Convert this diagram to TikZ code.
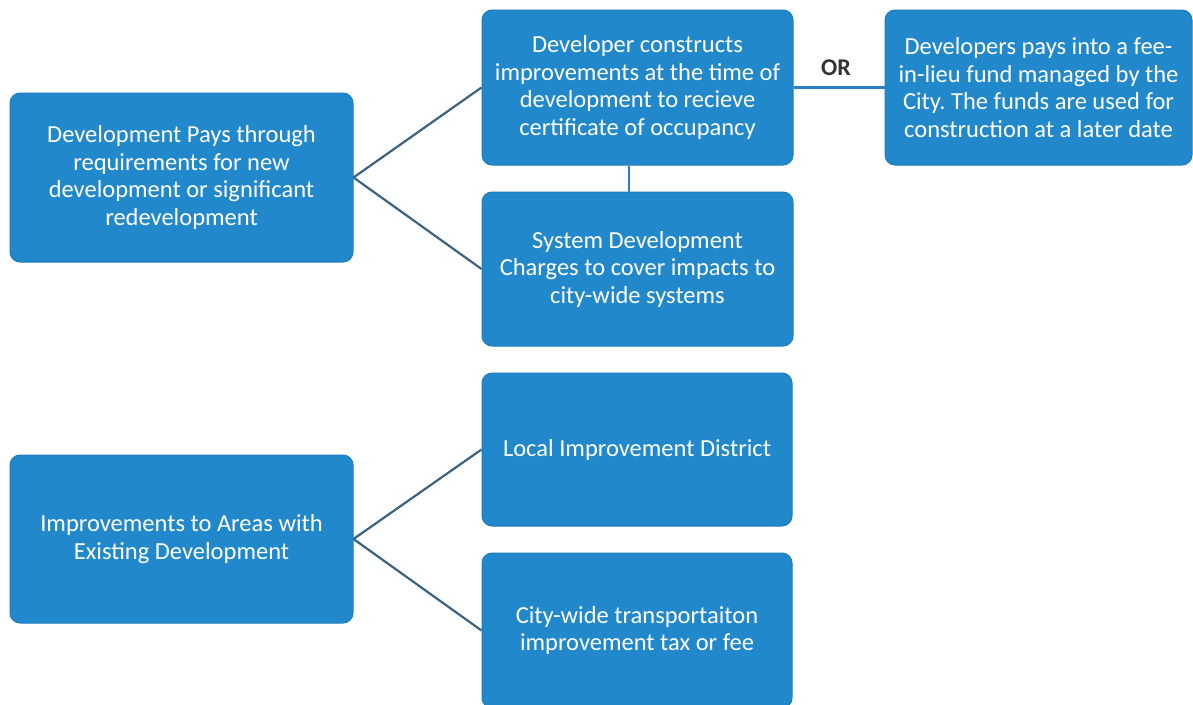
\documentclass[tikz,border=0pt]{standalone}
\usepackage{fontspec}
\setmainfont{Carlito}
\definecolor{boxblue}{HTML}{2288CC}
\definecolor{boxedge}{HTML}{1E7DBD}
\definecolor{linkslate}{HTML}{3A6282}
\definecolor{linkblue}{HTML}{2A80C2}
\definecolor{ortext}{HTML}{333333}
\begin{document}
\frenchspacing
\begin{tikzpicture}[x=1pt,y=-1pt,
  box/.style={draw=boxedge, line width=1pt, fill=boxblue, rounded corners=10pt, text=white,
    align=center, inner sep=0pt, font=\fontsize{24.5}{27.5}\selectfont},
  link/.style={draw=linkslate, line width=2.2pt},
  blink/.style={draw=linkblue, line width=2.2pt}]
\useasboundingbox (0,0) rectangle (1193,704);
\clip (0,0) rectangle (1193,704);
\fill[white] (0,0) rectangle (1193,704);

\node[box, minimum width=343pt, minimum height=169pt] (A) at (181.5,177.5)
  {Development Pays through\\requirements for new\\development or significant\\redevelopment};
\node[box, minimum width=311pt, minimum height=155pt] (B) at (637.5,87.5)
  {Developer constructs\\improvements at the time of\\development to recieve\\certificate of occupancy};
\node[box, minimum width=307pt, minimum height=155pt] (C) at (1038.5,87.5)
  {Developers pays into a fee-\\in-lieu fund managed by the\\City. The funds are used for\\construction at a later date};
\node[box, minimum width=311pt, minimum height=154pt] (D) at (637.5,269)
  {System Development\\Charges to cover impacts to\\city-wide systems};
\node[box, minimum width=343pt, minimum height=168pt] (E) at (181.5,539)
  {Improvements to Areas with\\Existing Development};
\node[box, minimum width=310pt, minimum height=153pt] (F) at (637,449.5)
  {Local Improvement District};
\node[box, minimum width=310pt, minimum height=155pt] (G) at (637,630.5)
  {City-wide transportaiton\\improvement tax or fee};

\node[font=\fontsize{24}{27}\bfseries\selectfont, text=ortext] (or) at (836,68) {OR};

\draw[link] (A.east) -- (B.west);
\draw[link] (A.east) -- (D.west);
\draw[blink] (B.east) -- (C.west);
\draw[blink] ([xshift=-8.5pt]B.south) -- ([xshift=-8.5pt]D.north);
\draw[link] (E.east) -- (F.west);
\draw[link] (E.east) -- (G.west);
\end{tikzpicture}
\end{document}
